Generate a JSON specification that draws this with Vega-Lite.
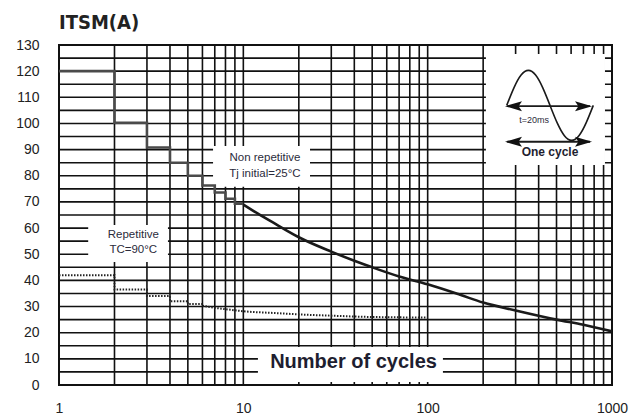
{
  "$schema": "https://vega.github.io/schema/vega-lite/v6.json",
  "width": 553,
  "height": 340,
  "autosize": {"type": "none"},
  "padding": {"left": 59, "top": 45, "right": 22, "bottom": 34},
  "background": "white",
  "config": {
    "view": {"stroke": "#111111", "strokeWidth": 2},
    "font": "Liberation Sans"
  },
  "title": {
    "text": "ITSM(A)",
    "anchor": "start",
    "frame": "group",
    "font": "DejaVu Sans Condensed, Liberation Sans",
    "fontSize": 20,
    "fontWeight": "bold",
    "color": "#222222",
    "baseline": "bottom",
    "offset": 12,
    "dy": 27
  },
  "datasets": {
    "gridY": [
      {"I": 5, "n": 1, "n2": 1000}, {"I": 10, "n": 1, "n2": 1000}, {"I": 15, "n": 1, "n2": 1000},
      {"I": 20, "n": 1, "n2": 1000}, {"I": 25, "n": 1, "n2": 1000}, {"I": 30, "n": 1, "n2": 1000},
      {"I": 35, "n": 1, "n2": 1000}, {"I": 40, "n": 1, "n2": 1000}, {"I": 45, "n": 1, "n2": 1000},
      {"I": 50, "n": 1, "n2": 1000}, {"I": 55, "n": 1, "n2": 1000}, {"I": 60, "n": 1, "n2": 1000},
      {"I": 65, "n": 1, "n2": 1000}, {"I": 70, "n": 1, "n2": 1000}, {"I": 75, "n": 1, "n2": 1000},
      {"I": 80, "n": 1, "n2": 1000}, {"I": 85, "n": 1, "n2": 1000}, {"I": 90, "n": 1, "n2": 1000},
      {"I": 95, "n": 1, "n2": 1000}, {"I": 100, "n": 1, "n2": 1000}, {"I": 105, "n": 1, "n2": 1000},
      {"I": 110, "n": 1, "n2": 1000}, {"I": 115, "n": 1, "n2": 1000}, {"I": 120, "n": 1, "n2": 1000},
      {"I": 125, "n": 1, "n2": 1000}
    ],
    "gridX": [
      {"n": 2, "I": 0, "I2": 130}, {"n": 3, "I": 0, "I2": 130}, {"n": 4, "I": 0, "I2": 130},
      {"n": 5, "I": 0, "I2": 130}, {"n": 6, "I": 0, "I2": 130}, {"n": 7, "I": 0, "I2": 130},
      {"n": 8, "I": 0, "I2": 130}, {"n": 9, "I": 0, "I2": 130}, {"n": 10, "I": 0, "I2": 130},
      {"n": 20, "I": 0, "I2": 130}, {"n": 30, "I": 0, "I2": 130}, {"n": 40, "I": 0, "I2": 130},
      {"n": 50, "I": 0, "I2": 130}, {"n": 60, "I": 0, "I2": 130}, {"n": 70, "I": 0, "I2": 130},
      {"n": 80, "I": 0, "I2": 130}, {"n": 90, "I": 0, "I2": 130}, {"n": 100, "I": 0, "I2": 130},
      {"n": 200, "I": 0, "I2": 130}, {"n": 300, "I": 0, "I2": 130}, {"n": 400, "I": 0, "I2": 130},
      {"n": 500, "I": 0, "I2": 130}, {"n": 600, "I": 0, "I2": 130}, {"n": 700, "I": 0, "I2": 130},
      {"n": 800, "I": 0, "I2": 130}, {"n": 900, "I": 0, "I2": 130}
    ],
    "boxes": [
      {"n": 207, "n2": 916, "I": 84.1, "I2": 126.6},
      {"n": 6.85, "n2": 23, "I": 75.8, "I2": 91.4},
      {"n": 1.44, "n2": 3.9, "I": 47, "I2": 61.2},
      {"n": 12, "n2": 121, "I": 1.1, "I2": 14.5}
    ],
    "solidStep": [
      {"n": 1, "I": 120}, {"n": 2, "I": 100.3}, {"n": 3, "I": 90.8}, {"n": 4, "I": 85},
      {"n": 5, "I": 80}, {"n": 6, "I": 76.3}, {"n": 7, "I": 73.6}, {"n": 8, "I": 71.2},
      {"n": 9, "I": 69.3}, {"n": 10, "I": 69.3}
    ],
    "solidCurve": [
      {"n": 10, "I": 69}, {"n": 12, "I": 65.5}, {"n": 15, "I": 61.5}, {"n": 20, "I": 56.5},
      {"n": 30, "I": 51}, {"n": 40, "I": 47.5}, {"n": 50, "I": 45}, {"n": 70, "I": 41.5},
      {"n": 100, "I": 38.5}, {"n": 150, "I": 34.5}, {"n": 200, "I": 31.5}, {"n": 300, "I": 28.5},
      {"n": 500, "I": 25}, {"n": 700, "I": 23}, {"n": 1000, "I": 20.5}
    ],
    "dotStep": [
      {"n": 1, "I": 42}, {"n": 2, "I": 36.5}, {"n": 3, "I": 34}, {"n": 4, "I": 32},
      {"n": 5, "I": 31}, {"n": 6, "I": 31}
    ],
    "dotCurve": [
      {"n": 6, "I": 30.3}, {"n": 7, "I": 29.5}, {"n": 8, "I": 29}, {"n": 10, "I": 28.2},
      {"n": 15, "I": 27.5}, {"n": 20, "I": 27}, {"n": 30, "I": 26.5}, {"n": 50, "I": 26},
      {"n": 100, "I": 25.8}
    ],
    "sine": [
      {"n": 268.5, "I": 106.9}, {"n": 293.7, "I": 113.59}, {"n": 321.2, "I": 118.49},
      {"n": 351.9, "I": 120.28}, {"n": 385.1, "I": 118.49}, {"n": 421.3, "I": 113.59},
      {"n": 461.0, "I": 106.9}, {"n": 504.4, "I": 100.21}, {"n": 551.9, "I": 95.31},
      {"n": 603.8, "I": 93.52}, {"n": 661.6, "I": 95.31}, {"n": 723.8, "I": 100.21},
      {"n": 791.7, "I": 106.9}
    ],
    "arrows": [
      {"n": 270, "n2": 760, "I": 106.6},
      {"n": 270, "n2": 760, "I": 93.0}
    ],
    "heads": [
      {"n": 292.2, "I": 106.6, "dir": "left"},
      {"n": 700.6, "I": 106.6, "dir": "right"},
      {"n": 292.2, "I": 93.0, "dir": "left"},
      {"n": 700.6, "I": 93.0, "dir": "right"}
    ],
    "labels": [
      {"text": "Non repetitive", "n": 13.1, "I": 85.8, "kind": "ann"},
      {"text": "Tj initial=25°C", "n": 13.1, "I": 79.4, "kind": "ann"},
      {"text": "Repetitive", "n": 2.53, "I": 56.1, "kind": "ann"},
      {"text": "TC=90°C", "n": 2.53, "I": 50.4, "kind": "ann"},
      {"text": "t=20ms", "n": 377.5, "I": 100, "kind": "small"},
      {"text": "One cycle", "n": 461, "I": 87.6, "kind": "bold"},
      {"text": "Number of cycles", "n": 39.6, "I": 6.4, "kind": "big"}
    ]
  },
  "encoding": {
    "x": {
      "field": "n", "type": "quantitative", "title": null,
      "scale": {"type": "log", "domain": [1, 1000], "nice": false},
      "axis": {
        "title": null,
        "values": [1, 10, 100, 1000],
        "labelExpr": "format(datum.value, 'd')",
        "grid": false,
        "ticks": false, "tickSize": 0, "domain": false,
        "labelPadding": 16, "labelFontSize": 14, "labelColor": "#222222",
        "labelFont": "Liberation Sans", "labelOverlap": false, "labelFlush": false
      }
    },
    "y": {
      "field": "I", "type": "quantitative", "title": null,
      "scale": {"domain": [0, 130], "nice": false, "zero": false},
      "axis": {
        "title": null,
        "values": [0,10,20,30,40,50,60,70,80,90,100,110,120,130],
        "grid": false,
        "ticks": false, "tickSize": 0, "domain": false,
        "labelPadding": 20, "labelFontSize": 14, "labelColor": "#222222",
        "labelFont": "Liberation Sans", "labelOverlap": false, "labelFlush": false
      }
    }
  },
  "layer": [
    {
      "data": {"name": "gridY"},
      "mark": {"type": "rule", "color": "#111111", "strokeWidth": 1.6},
      "encoding": {"x2": {"field": "n2"}}
    },
    {
      "data": {"name": "gridX"},
      "mark": {"type": "rule", "color": "#111111", "strokeWidth": 1.6},
      "encoding": {"y2": {"field": "I2"}}
    },
    {
      "data": {"name": "boxes"},
      "mark": {"type": "rect", "fill": "white", "strokeWidth": 0},
      "encoding": {
        "x2": {"field": "n2"},
        "y2": {"field": "I2"}
      }
    },
    {
      "data": {"name": "solidStep"},
      "mark": {"type": "line", "interpolate": "step-after", "color": "#4a4a4a", "strokeWidth": 2.6}
    },
    {
      "data": {"name": "solidCurve"},
      "mark": {"type": "line", "interpolate": "monotone", "color": "#1a1a1a", "strokeWidth": 2.6}
    },
    {
      "data": {"name": "dotStep"},
      "mark": {"type": "line", "interpolate": "step-after", "color": "#222222", "strokeWidth": 2, "strokeDash": [1.5, 1.5]}
    },
    {
      "data": {"name": "dotCurve"},
      "mark": {"type": "line", "interpolate": "monotone", "color": "#222222", "strokeWidth": 2, "strokeDash": [1.5, 1.5]}
    },
    {
      "data": {"name": "sine"},
      "mark": {"type": "line", "interpolate": "natural", "color": "#1a1a1a", "strokeWidth": 1.6}
    },
    {
      "data": {"name": "arrows"},
      "mark": {"type": "rule", "color": "#1a1a1a", "strokeWidth": 1.8},
      "encoding": {
        "x2": {"field": "n2"}
      }
    },
    {
      "data": {"name": "heads"},
      "mark": {"type": "point", "filled": true, "opacity": 1, "color": "#111111", "size": 289, "strokeWidth": 0},
      "encoding": {
        "shape": {
          "field": "dir", "type": "nominal", "legend": null,
          "scale": {"domain": ["left", "right"], "range": ["M-1,0L1,-0.58L0.6,0L1,0.58Z", "M1,0L-1,-0.58L-0.6,0L-1,0.58Z"]}
        }
      }
    },
    {
      "data": {"name": "labels"},
      "transform": [{"filter": "datum.kind === 'ann'"}],
      "mark": {"type": "text", "font": "Liberation Sans", "fontSize": 11.5, "color": "#2b2b3b", "align": "center", "baseline": "alphabetic"},
      "encoding": {"text": {"field": "text"}}
    },
    {
      "data": {"name": "labels"},
      "transform": [{"filter": "datum.kind === 'small'"}],
      "mark": {"type": "text", "font": "Liberation Sans", "fontSize": 9, "color": "#2b2b3b", "align": "center", "baseline": "alphabetic"},
      "encoding": {"text": {"field": "text"}}
    },
    {
      "data": {"name": "labels"},
      "transform": [{"filter": "datum.kind === 'bold'"}],
      "mark": {"type": "text", "font": "Liberation Sans", "fontSize": 12, "fontWeight": "bold", "color": "#1e1e30", "align": "center", "baseline": "alphabetic"},
      "encoding": {"text": {"field": "text"}}
    },
    {
      "data": {"name": "labels"},
      "transform": [{"filter": "datum.kind === 'big'"}],
      "mark": {"type": "text", "font": "Liberation Sans", "fontSize": 20, "fontWeight": "bold", "color": "#1e1e30", "align": "center", "baseline": "alphabetic"},
      "encoding": {"text": {"field": "text"}}
    }
  ]
}
